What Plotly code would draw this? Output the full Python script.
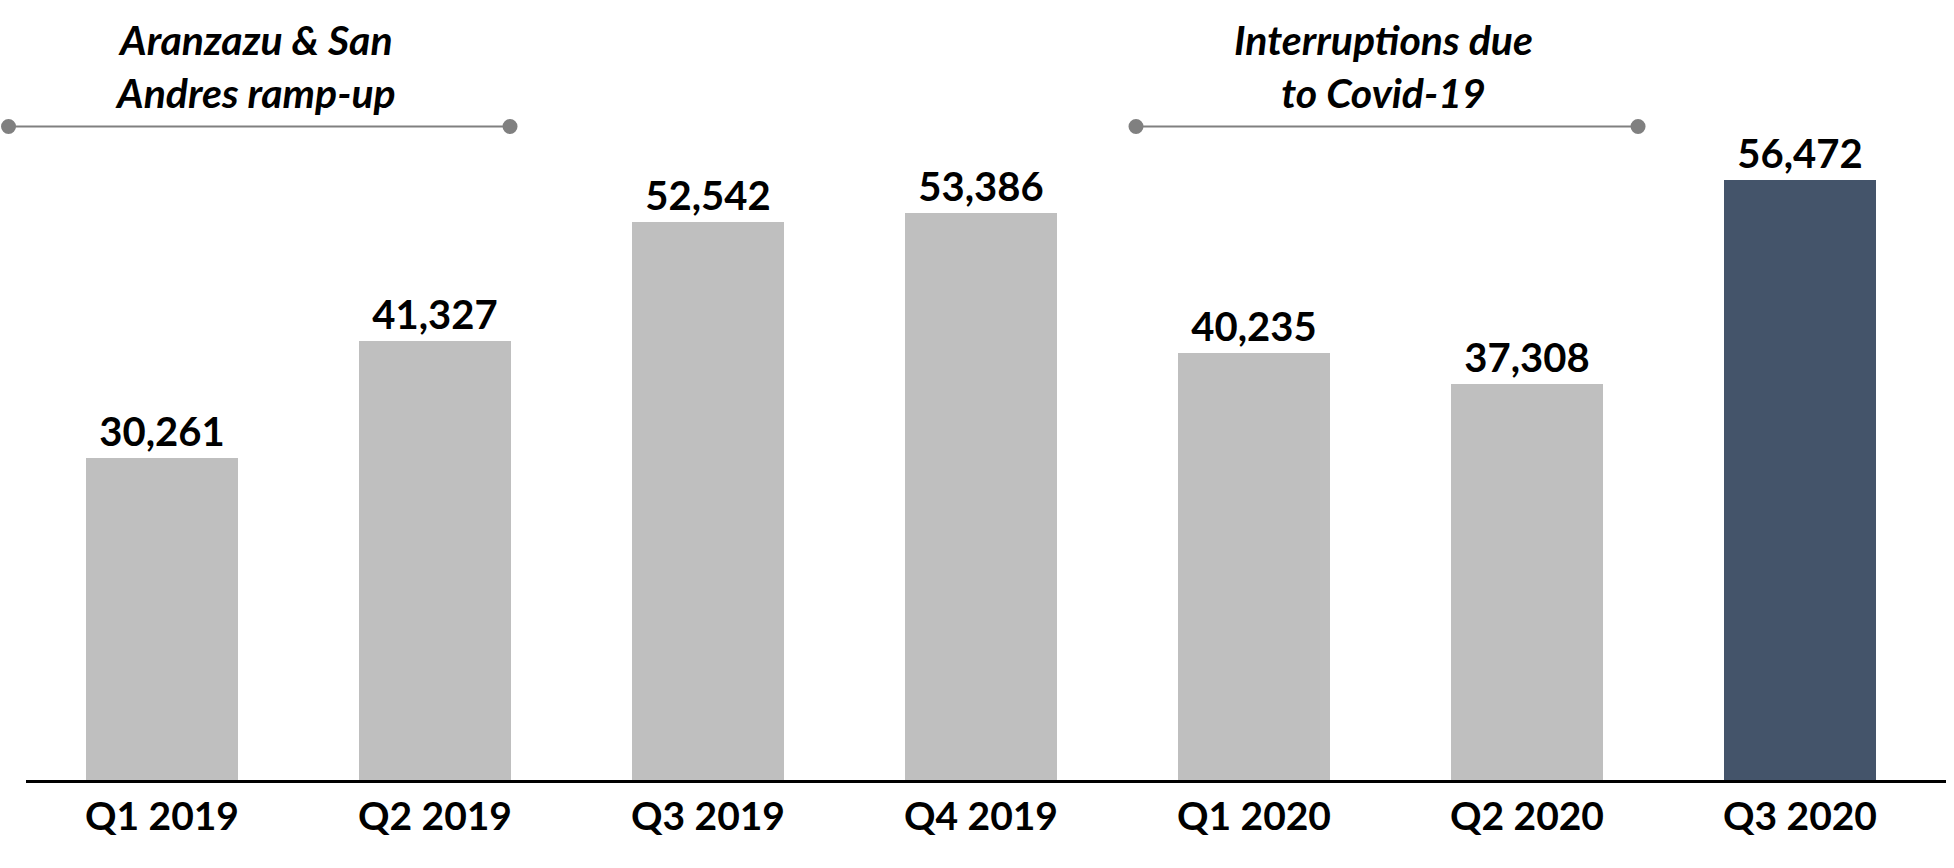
import plotly.graph_objects as go

categories = ["Q1 2019", "Q2 2019", "Q3 2019", "Q4 2019", "Q1 2020", "Q2 2020", "Q3 2020"]
values = [30261, 41327, 52542, 53386, 40235, 37308, 56472]
bar_colors = ["#BFBFBF"] * 6 + ["#44546A"]
labels = [f"{v:,}" for v in values]

# bracket annotations: text and start/end in category units
bracket_texts = ["Aranzazu & San<br>Andres ramp-up", "Interruptions due<br>to Covid-19"]
bracket_spans = [(-0.562, 1.275), (3.568, 5.407)]

W, H = 1954, 868
ML, MR, MT, MB = 26, 8, 0, 88
xr = [-0.498, 6.535]
PH = H - MT - MB
yr = [0, PH / 0.010625]

def xpaper(v):
    return (v - xr[0]) / (xr[1] - xr[0])

def ypaper(py):  # py = pixel y from top of page
    return 1 - (py - MT) / PH

fig = go.Figure()
fig.add_trace(go.Bar(
    x=list(range(len(categories))), y=values,
    marker=dict(color=bar_colors, line=dict(width=0)),
    width=0.557,
    text=labels, textposition="outside", cliponaxis=False,
    textfont=dict(family="Lato", size=40, color="black", weight="bold"),
    hoverinfo="skip",
))

shapes = []
annotations = []
line_y = ypaper(126.5)
for txt, (a, b) in zip(bracket_texts, bracket_spans):
    x0, x1 = xpaper(a), xpaper(b)
    shapes.append(dict(type="line", xref="paper", yref="paper", x0=x0, x1=x1, y0=line_y, y1=line_y,
                       line=dict(color="#808080", width=2)))
    r = 7.5
    for xc in (x0, x1):
        shapes.append(dict(type="circle", xref="paper", yref="paper",
                           xsizemode="pixel", ysizemode="pixel", xanchor=xc, yanchor=line_y,
                           x0=-r, x1=r, y0=-r, y1=r,
                           fillcolor="#808080", line=dict(width=0)))
    annotations.append(dict(text=f"<b><i>{txt}</i></b>", xref="paper", yref="paper",
                            x=(x0 + x1) / 2 - 0.002, y=ypaper(66), xanchor="center", yanchor="middle",
                            showarrow=False, font=dict(family="Lato", size=41, color="black")))

fig.update_layout(
    width=W, height=H,
    margin=dict(l=ML, r=MR, t=MT, b=MB),
    paper_bgcolor="white", plot_bgcolor="white",
    showlegend=False,
    bargap=0,
    xaxis=dict(range=xr, tickmode="array", tickvals=list(range(len(categories))), ticktext=categories,
               showline=True, linecolor="black", linewidth=3, showgrid=False, zeroline=False,
               ticks="", tickfont=dict(family="Lato", size=39, color="black", weight="bold")),
    yaxis=dict(range=yr, visible=False, showgrid=False, zeroline=False),
    shapes=shapes, annotations=annotations,
)

fig.write_html("out.html", config={"displayModeBar": False},
               post_script="document.body.style.margin='0';")
